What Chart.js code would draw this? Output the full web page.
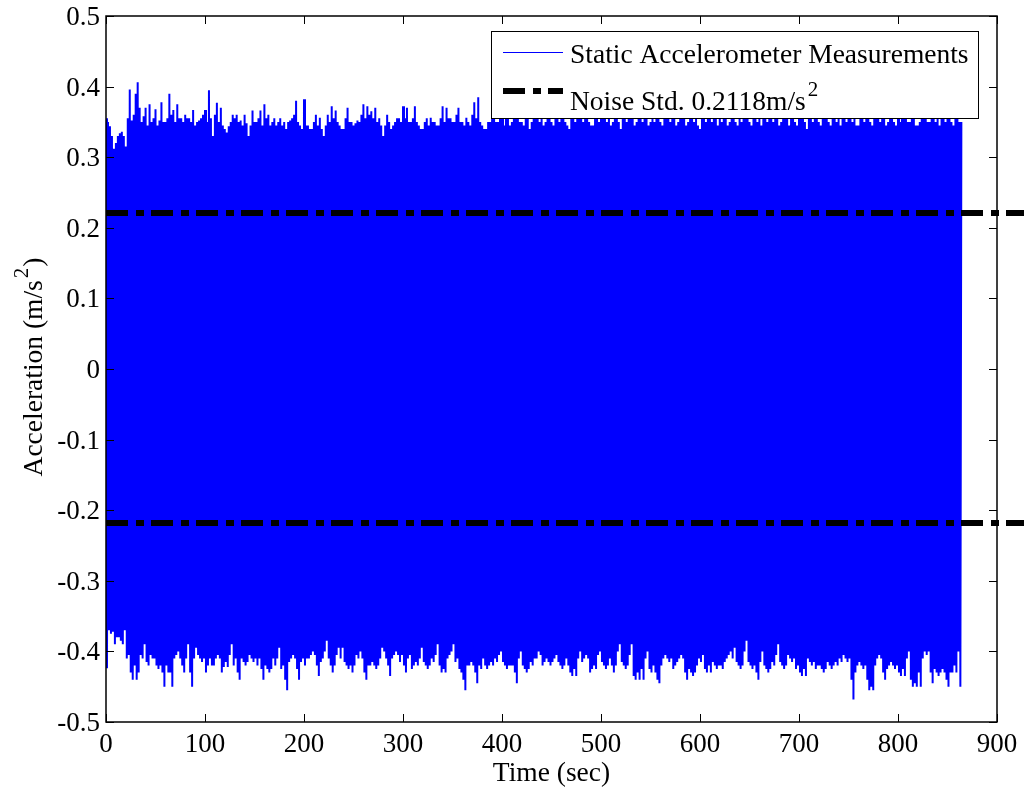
<!DOCTYPE html>
<html>
<head>
<meta charset="utf-8">
<title>Static Accelerometer Measurements</title>
<script src="https://cdn.jsdelivr.net/npm/chart.js@4.4.0/dist/chart.umd.min.js"></script>
<style>
  html, body { margin: 0; padding: 0; background: #fff; }
  canvas { display: block; }
</style>
</head>
<body>
<canvas id="accelChart" width="1024" height="792"></canvas>
<script>
// plotted samples alternate: upper swing, lower swing, upper, ...
const timeStep = 1; // seconds between plotted samples

// upper swings, t = 0, 2, 4, ... 864 s
const upperPeaks = [
  0.355, 0.35, 0.344, 0.33, 0.312, 0.32, 0.33, 0.334, 0.336, 0.33, 0.315, 0.355, 0.396, 0.352, 0.36, 0.39, 0.406, 0.37, 0.35, 0.358,
  0.37, 0.345, 0.375, 0.35, 0.355, 0.368, 0.345, 0.352, 0.378, 0.35, 0.35, 0.355, 0.39, 0.36, 0.367, 0.35, 0.375, 0.355, 0.355, 0.35,
  0.36, 0.355, 0.355, 0.35, 0.367, 0.345, 0.35, 0.352, 0.355, 0.36, 0.367, 0.35, 0.395, 0.355, 0.33, 0.36, 0.377, 0.35, 0.37, 0.345,
  0.34, 0.335, 0.344, 0.35, 0.36, 0.355, 0.36, 0.35, 0.352, 0.345, 0.36, 0.348, 0.33, 0.345, 0.366, 0.35, 0.35, 0.355, 0.366, 0.345,
  0.375, 0.355, 0.36, 0.345, 0.35, 0.355, 0.345, 0.35, 0.355, 0.345, 0.35, 0.34, 0.35, 0.352, 0.355, 0.36, 0.38, 0.35, 0.345, 0.34,
  0.382, 0.345, 0.345, 0.34, 0.34, 0.35, 0.36, 0.345, 0.356, 0.34, 0.33, 0.345, 0.36, 0.35, 0.372, 0.355, 0.366, 0.35, 0.345, 0.34,
  0.34, 0.355, 0.37, 0.35, 0.35, 0.345, 0.348, 0.352, 0.35, 0.36, 0.375, 0.355, 0.372, 0.36, 0.365, 0.355, 0.37, 0.35, 0.355, 0.345,
  0.33, 0.345, 0.36, 0.35, 0.34, 0.345, 0.35, 0.355, 0.355, 0.35, 0.372, 0.355, 0.37, 0.35, 0.35, 0.355, 0.372, 0.35, 0.345, 0.34,
  0.34, 0.35, 0.355, 0.345, 0.356, 0.35, 0.35, 0.345, 0.345, 0.355, 0.372, 0.35, 0.37, 0.355, 0.355, 0.35, 0.35, 0.36, 0.37, 0.35,
  0.35, 0.345, 0.356, 0.35, 0.345, 0.36, 0.378, 0.355, 0.385, 0.35, 0.345, 0.34, 0.34, 0.35, 0.35, 0.355,
  0.36, 0.35, 0.35, 0.355, 0.37, 0.345, 0.355, 0.36, 0.345, 0.35, 0.365, 0.355, 0.38, 0.35, 0.35, 0.345, 0.36, 0.355, 0.34, 0.35,
  0.355, 0.36, 0.37, 0.35, 0.36, 0.345, 0.35, 0.355, 0.375, 0.35, 0.345, 0.36, 0.36, 0.35, 0.365, 0.355, 0.35, 0.345, 0.34, 0.355,
  0.37, 0.35, 0.355, 0.36, 0.36, 0.35, 0.38, 0.355, 0.35, 0.345, 0.345, 0.36, 0.365, 0.35, 0.36, 0.355, 0.355, 0.35, 0.37, 0.345,
  0.35, 0.355, 0.36, 0.35, 0.34, 0.355, 0.365, 0.35, 0.375, 0.36, 0.355, 0.345, 0.35, 0.36, 0.36, 0.35, 0.37, 0.355, 0.345, 0.35,
  0.355, 0.35, 0.365, 0.355, 0.35, 0.345, 0.36, 0.355, 0.38, 0.35, 0.355, 0.36, 0.345, 0.35, 0.37, 0.355, 0.36, 0.345, 0.35, 0.355,
  0.365, 0.35, 0.355, 0.345, 0.34, 0.355, 0.36, 0.35, 0.37, 0.355, 0.35, 0.36, 0.355, 0.345, 0.375, 0.35, 0.36, 0.355, 0.345, 0.35,
  0.36, 0.355, 0.35, 0.345, 0.365, 0.35, 0.355, 0.36, 0.37, 0.35, 0.345, 0.355, 0.36, 0.35, 0.355, 0.345, 0.38, 0.355, 0.35, 0.36,
  0.36, 0.35, 0.365, 0.355, 0.345, 0.35, 0.355, 0.36, 0.37, 0.345, 0.36, 0.355, 0.35, 0.345, 0.355, 0.36, 0.365, 0.35, 0.34, 0.355,
  0.36, 0.35, 0.375, 0.355, 0.35, 0.345, 0.355, 0.36, 0.36, 0.35, 0.345, 0.355, 0.37, 0.35, 0.355, 0.345, 0.36, 0.355, 0.35, 0.36,
  0.365, 0.35, 0.355, 0.345, 0.345, 0.355, 0.37, 0.35, 0.36, 0.355, 0.35, 0.345, 0.36, 0.355, 0.375, 0.35, 0.355, 0.36, 0.345, 0.35,
  0.36, 0.355, 0.35, 0.345, 0.365, 0.35, 0.355, 0.36, 0.37, 0.35, 0.35, 0.355, 0.36, 0.345, 0.345, 0.35, 0.355, 0.36, 0.365, 0.35,
  0.35, 0.355, 0.36, 0.35, 0.355, 0.345, 0.37, 0.355, 0.35, 0.36, 0.36, 0.35, 0.345, 0.355, 0.355, 0.35, 0.35
];

// lower swings, t = 1, 3, 5, ... 863 s
const lowerPeaks = [
  -0.424, -0.37, -0.375, -0.372, -0.39, -0.38, -0.38, -0.385, -0.39, -0.37, -0.41, -0.405, -0.43, -0.44, -0.42, -0.44, -0.43, -0.405, -0.41, -0.39,
  -0.415, -0.42, -0.405, -0.41, -0.41, -0.42, -0.425, -0.42, -0.43, -0.45, -0.42, -0.43, -0.43, -0.45, -0.41, -0.405, -0.4, -0.41, -0.42, -0.43,
  -0.41, -0.39, -0.43, -0.45, -0.41, -0.395, -0.405, -0.41, -0.415, -0.41, -0.43, -0.42, -0.41, -0.42, -0.42, -0.41, -0.405, -0.41, -0.43, -0.422,
  -0.415, -0.422, -0.405, -0.39, -0.42, -0.41, -0.43, -0.44, -0.41, -0.415, -0.42, -0.415, -0.405, -0.41, -0.415, -0.41, -0.42, -0.41, -0.425, -0.44,
  -0.42, -0.425, -0.43, -0.425, -0.41, -0.42, -0.41, -0.395, -0.425, -0.42, -0.44, -0.455, -0.415, -0.41, -0.405, -0.41, -0.425, -0.44, -0.415, -0.41,
  -0.42, -0.41, -0.41, -0.405, -0.4, -0.405, -0.42, -0.435, -0.415, -0.41, -0.4, -0.385, -0.41, -0.42, -0.43, -0.42, -0.405, -0.395, -0.41, -0.395,
  -0.415, -0.42, -0.425, -0.42, -0.43, -0.42, -0.405, -0.41, -0.4, -0.41, -0.43, -0.44, -0.42, -0.42, -0.415, -0.42, -0.425, -0.42, -0.41, -0.395,
  -0.4, -0.41, -0.42, -0.435, -0.41, -0.405, -0.4, -0.405, -0.415, -0.405, -0.42, -0.43, -0.41, -0.405, -0.425, -0.42, -0.415, -0.42, -0.41, -0.395,
  -0.415, -0.42, -0.425, -0.42, -0.41, -0.415, -0.405, -0.39, -0.42, -0.43, -0.425, -0.43, -0.41, -0.405, -0.4, -0.39, -0.415, -0.41, -0.425, -0.43,
  -0.44, -0.455, -0.42, -0.42, -0.415, -0.42, -0.43, -0.445, -0.42, -0.425, -0.41, -0.42, -0.425, -0.42, -0.415, -0.42, -0.41, -0.415, -0.405, -0.40,
  -0.415, -0.42, -0.425, -0.42, -0.42, -0.42, -0.43, -0.445, -0.41, -0.40, -0.42, -0.425, -0.43, -0.425, -0.415, -0.42, -0.41, -0.41, -0.4, -0.405,
  -0.42, -0.415, -0.41, -0.415, -0.42, -0.415, -0.41, -0.405, -0.415, -0.42, -0.425, -0.42, -0.41, -0.42, -0.43, -0.435, -0.425, -0.435, -0.41, -0.40,
  -0.415, -0.41, -0.405, -0.41, -0.43, -0.425, -0.42, -0.425, -0.405, -0.40, -0.415, -0.42, -0.425, -0.42, -0.41, -0.42, -0.43, -0.42, -0.4, -0.39,
  -0.415, -0.42, -0.425, -0.42, -0.405, -0.39, -0.435, -0.44, -0.43, -0.44, -0.425, -0.44, -0.41, -0.40, -0.425, -0.43, -0.42, -0.43, -0.44, -0.445,
  -0.42, -0.41, -0.405, -0.41, -0.415, -0.41, -0.425, -0.42, -0.415, -0.41, -0.405, -0.41, -0.43, -0.44, -0.425, -0.43, -0.435, -0.43, -0.42, -0.41,
  -0.415, -0.405, -0.425, -0.43, -0.42, -0.43, -0.415, -0.42, -0.425, -0.42, -0.42, -0.425, -0.415, -0.41, -0.405, -0.40, -0.41, -0.395, -0.415, -0.42,
  -0.425, -0.42, -0.4, -0.385, -0.415, -0.42, -0.425, -0.42, -0.43, -0.44, -0.415, -0.40, -0.42, -0.425, -0.43, -0.425, -0.415, -0.42, -0.405, -0.39,
  -0.415, -0.42, -0.425, -0.42, -0.405, -0.41, -0.415, -0.41, -0.425, -0.42, -0.43, -0.435, -0.425, -0.435, -0.41, -0.415, -0.42, -0.415, -0.425, -0.42,
  -0.42, -0.425, -0.43, -0.425, -0.415, -0.42, -0.425, -0.42, -0.415, -0.42, -0.41, -0.415, -0.405, -0.41, -0.415, -0.41, -0.44, -0.468, -0.43, -0.42,
  -0.415, -0.42, -0.425, -0.42, -0.44, -0.455, -0.45, -0.455, -0.42, -0.41, -0.405, -0.41, -0.43, -0.44, -0.425, -0.42, -0.415, -0.42, -0.425, -0.42,
  -0.43, -0.435, -0.425, -0.435, -0.41, -0.40, -0.44, -0.45, -0.445, -0.45, -0.43, -0.45, -0.41, -0.40, -0.405, -0.40, -0.43, -0.445, -0.425, -0.43,
  -0.435, -0.43, -0.425, -0.43, -0.44, -0.45, -0.43, -0.43, -0.42, -0.43, -0.4, -0.45
];

// +/- std levels as drawn (mean offset included), and their time extent
const noiseUpper = 0.221;
const noiseLower = -0.218;
const noiseSpan = [0, 930];

const xTickValues = [0, 100, 200, 300, 400, 500, 600, 700, 800, 900];
const yTickValues = [-0.5, -0.4, -0.3, -0.2, -0.1, 0, 0.1, 0.2, 0.3, 0.4, 0.5];

const seriesLabels = ["Static Accelerometer Measurements", "Noise Std. 0.2118m/s"];
const xTitle = "Time (sec)";
const yTitle = "Acceleration (m/s";
const unitSup = "2";

const FONT = "'Liberation Serif', 'Times New Roman', serif";
const TICK_SIZE = 27;
const TEXT_SIZE = 27.5;
const SUP_SIZE = 21;

const measurement = [];
for (let i = 0; i < upperPeaks.length + lowerPeaks.length; i++) {
  const v = i % 2 === 0 ? upperPeaks[i / 2] : lowerPeaks[(i - 1) / 2];
  if (v === undefined) break;
  measurement.push({ x: i * timeStep, y: v });
}

const stdStyle = {
  borderColor: "#000000",
  borderWidth: 6,
  borderDash: [22, 8, 8, 7],
  borderCapStyle: "butt",
  pointRadius: 0,
  clip: false,
  order: 1,
};

// text with a raised "2", drawn left to right from x on baseline y
function drawWithSup(ctx, base, sup, tail, x, y) {
  ctx.font = TEXT_SIZE + "px " + FONT;
  ctx.fillText(base, x, y);
  x += ctx.measureText(base).width + 2;
  ctx.font = SUP_SIZE + "px " + FONT;
  ctx.fillText(sup, x, y - 14);
  x += ctx.measureText(sup).width + 1;
  if (tail) {
    ctx.font = TEXT_SIZE + "px " + FONT;
    ctx.fillText(tail, x, y);
  }
}

function widthWithSup(ctx, base, sup, tail) {
  ctx.font = TEXT_SIZE + "px " + FONT;
  let w = ctx.measureText(base).width + ctx.measureText(tail).width + 3;
  ctx.font = SUP_SIZE + "px " + FONT;
  return w + ctx.measureText(sup).width;
}

// matlab-like box: inner ticks on all four sides, frame, legend inside the axes
const matlabAxes = {
  id: "matlabAxes",
  afterDatasetsDraw(chart) {
    const { ctx, chartArea: a, scales } = chart;
    const tick = 8;
    const L = Math.round(a.left), R = Math.round(a.right);
    const T = Math.round(a.top), B = Math.round(a.bottom);
    ctx.save();
    ctx.strokeStyle = "#000";
    ctx.lineWidth = 1;
    ctx.beginPath();
    xTickValues.forEach((v) => {
      const px = Math.round(scales.x.getPixelForValue(v)) + 0.5;
      ctx.moveTo(px, B); ctx.lineTo(px, B - tick);
      ctx.moveTo(px, T); ctx.lineTo(px, T + tick);
    });
    yTickValues.forEach((v) => {
      const py = Math.round(scales.y.getPixelForValue(v)) + 0.5;
      ctx.moveTo(L, py); ctx.lineTo(L + tick, py);
      ctx.moveTo(R, py); ctx.lineTo(R - tick, py);
    });
    ctx.stroke();
    ctx.lineWidth = 1.5;
    ctx.strokeRect(L, T, R - L, B - T);
    ctx.restore();
  },
  afterDraw(chart) {
    const { ctx } = chart;
    const ds = chart.data.datasets;
    const box = { x: 491, y: 31, w: 487, h: 87 };
    ctx.save();
    ctx.fillStyle = "#fff";
    ctx.fillRect(box.x, box.y, box.w, box.h);
    ctx.strokeStyle = "#000";
    ctx.lineWidth = 1;
    ctx.strokeRect(box.x + 0.5, box.y + 0.5, box.w, box.h);

    // entry 1: blue line sample
    ctx.strokeStyle = ds[0].borderColor;
    ctx.lineWidth = 1;
    ctx.beginPath();
    ctx.moveTo(503, 52.5); ctx.lineTo(563, 52.5);
    ctx.stroke();

    // entry 2: dash-dot sample
    ctx.strokeStyle = ds[1].borderColor;
    ctx.lineWidth = ds[1].borderWidth;
    ctx.lineCap = "butt";
    ctx.setLineDash(ds[1].borderDash);
    ctx.beginPath();
    ctx.moveTo(503, 91); ctx.lineTo(563, 91);
    ctx.stroke();
    ctx.setLineDash([]);

    ctx.fillStyle = "#000";
    ctx.textBaseline = "alphabetic";
    ctx.textAlign = "left";
    ctx.font = TEXT_SIZE + "px " + FONT;
    ctx.fillText(ds[0].label, 570, 63);
    drawWithSup(ctx, ds[1].label, unitSup, "", 570, 109.5);

    // y axis title, rotated
    const total = widthWithSup(ctx, yTitle, unitSup, ")");
    ctx.translate(33, 367);
    ctx.rotate(-Math.PI / 2);
    drawWithSup(ctx, yTitle, unitSup, ")", -total / 2, 9);
    ctx.restore();
  },
};

const tickFont = { family: FONT, size: TICK_SIZE };

new Chart(document.getElementById("accelChart"), {
  type: "line",
  data: {
    datasets: [
      {
        label: seriesLabels[0],
        data: measurement,
        borderColor: "#0000ff",
        borderWidth: 2,
        pointRadius: 0,
        tension: 0,
        order: 2,
      },
      { ...stdStyle, label: seriesLabels[1], data: noiseSpan.map((x) => ({ x, y: noiseUpper })) },
      { ...stdStyle, label: "lower", data: noiseSpan.map((x) => ({ x, y: noiseLower })) },
    ],
  },
  options: {
    responsive: false,
    animation: false,
    events: [],
    layout: { padding: { top: 16, right: 27, left: 0, bottom: 0 } },
    plugins: { legend: { display: false }, tooltip: { enabled: false } },
    scales: {
      x: {
        type: "linear",
        min: 0,
        max: 900,
        grid: { display: false, drawTicks: false },
        border: { display: false },
        ticks: {
          font: tickFont,
          color: "#000",
          padding: 7,
          maxRotation: 0,
          autoSkip: false,
          callback: (v) => String(v),
        },
        title: {
          display: true,
          text: xTitle,
          font: { family: FONT, size: TEXT_SIZE },
          color: "#000",
          padding: { top: 0, bottom: 2 },
        },
        afterBuildTicks: (scale) => {
          scale.ticks = xTickValues.map((v) => ({ value: v }));
        },
        afterFit: (scale) => {
          scale.height = 70;
          scale.paddingLeft = 0;
          scale.paddingRight = 0;
        },
      },
      y: {
        type: "linear",
        min: -0.5,
        max: 0.5,
        grid: { display: false, drawTicks: false },
        border: { display: false },
        ticks: {
          font: { family: FONT, size: TICK_SIZE, lineHeight: 1 },
          color: "#000",
          padding: 6,
          labelOffset: 2,
          autoSkip: false,
          callback: (v) => (v === 0 ? "0" : v.toFixed(1)),
        },
        title: { display: false },
        afterBuildTicks: (scale) => {
          scale.ticks = yTickValues.map((v) => ({ value: v }));
        },
        afterFit: (scale) => {
          scale.width = 106;
          scale.paddingTop = 0;
          scale.paddingBottom = 0;
        },
      },
    },
  },
  plugins: [matlabAxes],
});
</script>
</body>
</html>
